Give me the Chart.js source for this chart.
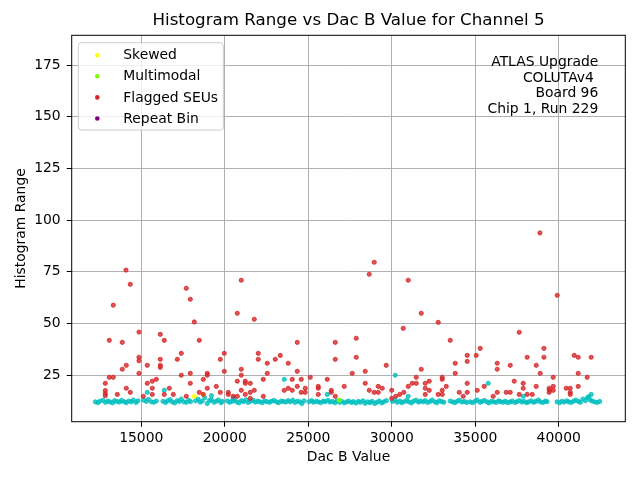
<!DOCTYPE html>
<html><head><meta charset="utf-8">
<script src="https://cdn.jsdelivr.net/npm/chart.js@4.4.1/dist/chart.umd.min.js"></script>
<style>html,body{margin:0;padding:0;background:#fff}canvas{display:block}</style>
</head><body>
<canvas id="c" width="640" height="480" style="width:640px;height:480px"></canvas>
<script>
const titleText = 'Histogram Range vs Dac B Value for Channel 5';
const xLabel = 'Dac B Value';
const yLabel = 'Histogram Range';
const xTicks = [15000, 20000, 25000, 30000, 35000, 40000];
const yTicks = [25, 50, 75, 100, 125, 150, 175];
const xRange = [10832, 43988];
const yRange = [2.4, 189.5];
const legendLabels = ['Skewed', 'Multimodal', 'Flagged SEUs', 'Repeat Bin'];
const legendColors = ['#ffff00', '#7cfc00', '#d62728', '#800080'];
const pointColors = ['rgba(255,255,0,0.85)', 'rgba(124,252,0,0.85)', 'rgba(214,39,40,0.8)', 'rgba(128,0,128,0.85)'];
const normalColor = 'rgba(0,191,191,0.8)';
const noteLines = ['ATLAS Upgrade', 'COLUTAv4 ', 'Board 96', 'Chip 1, Run 229'];

const normalPts = [
[12250,12.0],[12400,11.6],[12520,12.3],[12700,12.8],[12850,11.8],[13000,12.4],[13120,12.0],[13280,11.5],[13400,12.6],[13550,12.2],[13700,11.9],[13820,12.7],[13980,12.1],[14100,11.6],[14250,12.4],[14400,12.0],[14520,12.9],[14680,11.7],[14800,12.5],
[15150,12.8],[15300,12.2],[15420,13.2],[15600,12.0],[15750,11.8],[15900,12.4],
[16300,12.3],[16450,11.7],[16580,12.5],[16720,13.1],[16850,12.0],[17000,11.5],[17150,12.6],[17280,12.2],[17400,13.4],[17550,12.0],[17700,11.8],[17850,12.7],[17950,12.1],
[18250,12.5],[18400,13.3],[18520,11.9],[18650,12.4],[18800,14.0],[18950,11.2],[19080,12.6],[19200,13.0],[19350,11.8],[19500,12.3],[19620,12.9],[19780,11.6],[19850,12.2],
[20150,12.4],[20300,11.8],[20420,12.2],[20580,12.9],[20700,12.0],[20850,11.5],[21000,12.6],[21120,12.1],[21280,13.0],[21400,11.7],[21550,12.3],[21700,12.8],[21820,11.9],[21980,12.4],[22100,12.0],[22250,11.6],[22400,12.5],[22520,12.1],[22680,11.8],[22800,12.3],[22950,12.7],[23100,12.0],[23220,11.6],[23380,12.4],[23500,12.2],[23650,11.9],[23800,12.6],[23920,12.0],[24080,12.8],[24200,11.7],[24350,12.3],[24500,12.0],[24620,11.2],[24750,12.5],
[25050,12.1],[25200,12.6],[25320,11.8],[25480,12.3],[25600,12.0],[25750,11.6],[25900,12.4],[26020,12.1],[26180,12.7],[26300,11.9],[26450,12.2],[26600,11.6],[26720,12.5],[26880,11.8],[27000,12.3],[27150,11.5],[27300,12.0],[27420,12.4],[27580,11.7],[27700,12.1],[27850,11.4],[28000,12.2],[28120,11.8],[28280,12.5],[28400,11.3],[28550,12.0],[28700,11.6],[28820,12.3],[28980,11.2],[29100,11.8],[29250,12.4],[29400,11.5],[29520,12.0],[29680,12.6],
[30050,12.2],[30200,12.9],[30320,11.8],[30480,12.4],[30600,11.6],[30750,12.1],[30900,12.7],[31020,12.0],[31180,11.5],[31300,12.3],[31450,12.8],[31600,11.9],[31720,12.4],[31880,12.0],[32000,12.6],[32150,11.7],[32300,12.2],[32420,12.9],[32580,12.0],[32700,11.6],[32850,12.5],[33000,12.1],[33120,11.8],[33500,12.4],[33650,12.0],[33780,11.6],[33920,12.3],[34050,12.8],[34200,11.9],[34350,12.2],[34480,11.7],
[34700,12.0],[34850,11.6],[35000,12.4],[35120,12.9],[35280,11.8],[35400,12.2],[35550,12.7],[35700,12.0],[35820,11.5],[35980,12.3],[36100,12.0],[36250,11.7],[36400,12.5],[36520,12.1],[36680,11.8],[36800,12.3],[36950,11.6],[37100,12.0],[37220,12.4],[37380,11.7],[37500,12.1],[37650,12.6],[37800,11.9],[37920,12.3],[38080,11.6],[38200,12.0],[38350,12.5],[38500,11.8],[38620,12.2],[38780,12.9],[38900,12.0],[39050,11.7],[39200,12.4],[39300,12.1],
[39900,12.0],[40050,11.6],[40200,12.3],[40320,11.9],[40480,12.5],[40600,12.0],[40750,11.7],[40900,12.4],[41020,12.9],[41180,12.2],[41300,11.8],[41450,13.4],[41600,12.6],[41720,14.0],[41880,13.0],[42000,12.4],[42150,12.0],[42300,11.7],[42450,12.2],
[16377,17.6],[15359,16.6],[23563,22.9],[26138,15.6],[30210,24.9],[35777,21.0],[37874,14.7],[30988,14.7],[41946,15.6],[41800,14.5],[19200,15.0],[20500,13.8]
];

const skewedPts = [[18174,14.7],[18713,15.6]];
const multimodalPts = [[26857,12.8]];
const repeatBinPts = [];

const flaggedPts = [
[14084,75.8],[14341,68.9],[13323,58.8],[13084,41.8],[13862,40.8],[14862,45.8],[14862,33.6],[14862,31.9],[14862,25.8],[14102,29.7],[13862,27.8],[13084,23.9],[13323,23.9],[12844,21.0],[12844,17.5],[12844,16.0],[12844,15.0],[13563,15.6],[14102,18.6],[14341,16.6],[15120,14.7],[15359,29.7],[15359,21.0],[15659,18.6],[15659,15.6],[15659,22.0],[15898,22.9],[16138,44.7],[16377,41.8],[16138,32.6],[16138,29.7],[16138,28.7],[16377,15.6],[16677,18.6],[16916,15.6],[17156,32.6],[17395,35.5],[17395,24.9],[17695,67.0],[17934,61.7],[18174,50.7],[17934,25.8],[17934,21.0],[17695,14.7],[18473,41.8],[18473,16.6],[18713,22.9],[18952,25.8],[18952,24.9],[18952,18.6],[18713,15.6],[19491,19.5],[19731,32.6],[19970,35.5],[19970,26.8],[19731,16.6],[20210,16.6],[20210,15.6],[20509,14.7],[20749,14.7],[20749,54.9],[20988,70.9],[20988,27.8],[20988,24.9],[20749,22.0],[20988,17.6],[21228,22.0],[21228,21.0],[21228,15.6],[21527,21.0],[21527,16.6],[21527,13.7],[21767,52.0],[21767,17.6],[22006,35.5],[22006,32.6],[22306,22.9],[22306,14.7],[22545,30.7],[22545,25.8],[23024,32.6],[23324,34.5],[23803,30.7],[23563,17.6],[23803,18.6],[24042,22.9],[24042,17.6],[24341,40.8],[24341,26.8],[24341,19.5],[24581,22.9],[24581,16.6],[24820,18.6],[24820,16.6],[25120,23.9],[25599,19.5],[25599,18.6],[25599,15.6],[26138,22.9],[26377,17.6],[26377,16.6],[26617,14.7],[26617,40.8],[26617,32.6],[27156,19.5],[27874,42.8],[27874,33.6],[27635,25.8],
[28952,79.6],[28653,73.8],[30988,70.9],[39910,63.6],[31767,54.9],[32784,50.5],[30689,47.6],[37634,45.7],[33503,41.8],[35299,37.9],[35060,34.5],[39114,37.9],[38113,33.6],[39114,33.6],[40929,34.5],[41168,33.6],[41946,33.6],[34520,34.5],[34520,31.6],[29671,29.7],[33802,30.7],[36317,30.7],[36317,27.8],[37096,29.7],[38653,29.7],[28413,26.8],[31767,27.8],[33802,25.8],[38892,25.8],[41168,25.8],[31467,23.9],[33024,23.9],[33024,22.9],[39671,23.9],[41707,23.9],[28413,21.0],[31228,21.0],[31467,21.0],[32006,21.0],[32246,22.0],[33264,19.5],[34520,21.0],[35538,19.5],[37336,22.0],[37874,21.0],[37874,18.6],[38653,19.5],[39671,19.5],[39431,18.6],[39431,17.6],[39431,16.6],[40449,18.6],[40689,18.6],[40689,16.6],[40689,15.6],[41168,19.5],[28653,17.6],[28952,16.6],[29192,16.6],[29192,19.5],[29431,18.6],[30000,17.6],[30000,13.7],[30240,14.7],[30479,15.6],[30719,16.6],[30988,19.5],[32006,18.6],[32006,15.6],[32246,17.6],[32784,15.6],[33024,17.6],[33024,15.6],[34042,16.6],[34281,14.7],[34520,16.6],[35120,17.6],[36078,14.7],[36317,16.6],[36856,16.6],[37096,16.6],[37634,15.6],[38113,15.6],[38413,15.6],[39671,17.6],[38874,93.8]
];

const FONT = "'DejaVu Sans', 'Liberation Sans', sans-serif";
const toXY = arr => arr.map(p => ({x: p[0], y: p[1]}));

function roundRectPath(ctx, x, y, w, h, r) {
  ctx.beginPath();
  ctx.moveTo(x + r, y);
  ctx.arcTo(x + w, y, x + w, y + h, r);
  ctx.arcTo(x + w, y + h, x, y + h, r);
  ctx.arcTo(x, y + h, x, y, r);
  ctx.arcTo(x, y, x + w, y, r);
  ctx.closePath();
}

const deco = {
  id: 'deco',
  afterDraw(chart) {
    const {ctx, chartArea: a} = chart;
    ctx.save();
    ctx.strokeStyle = '#000';
    ctx.lineWidth = 1;
    ctx.strokeRect(a.left, a.top, a.right - a.left, a.bottom - a.top);
    ctx.fillStyle = '#000';
    ctx.font = '16.7px ' + FONT;
    ctx.textAlign = 'center';
    ctx.textBaseline = 'middle';
    ctx.fillText(titleText, (a.left + a.right) / 2, 21);
    const lx = a.left + 6.6, ly = a.top + 7.4, lw = 145, lh = 87.3;
    roundRectPath(ctx, lx, ly, lw, lh, 3);
    ctx.fillStyle = 'rgba(255,255,255,0.8)';
    ctx.fill();
    ctx.strokeStyle = '#cccccc';
    ctx.lineWidth = 1;
    ctx.stroke();
    ctx.font = '13.9px ' + FONT;
    ctx.textAlign = 'left';
    ctx.textBaseline = 'middle';
    legendLabels.forEach((lab, i) => {
      const cy = ly + 12.5 + i * 21.1;
      ctx.beginPath();
      ctx.arc(lx + 19, cy, 2.3, 0, Math.PI * 2);
      ctx.fillStyle = legendColors[i];
      ctx.fill();
      ctx.fillStyle = '#000';
      ctx.fillText(lab, lx + 45, cy + 0.5);
    });
    ctx.textAlign = 'right';
    noteLines.forEach((t, i) => {
      ctx.fillText(t, 598.3, 62.5 + i * 15.6);
    });
    ctx.restore();
  }
};

const tickFont = {family: FONT, size: 13.9};
const gridOpts = {color: '#b0b0b0', lineWidth: 1, tickLength: 5, tickColor: '#000', drawTicks: true};
const mk = (label, pts, color, order) => ({
  label, data: toXY(pts), backgroundColor: color, borderColor: color,
  pointRadius: 2.1, borderWidth: 1, order
});

new Chart(document.getElementById('c'), {
  type: 'scatter',
  data: {
    datasets: [
      mk('Normal', normalPts, normalColor, 10),
      mk(legendLabels[0], skewedPts, pointColors[0], 2),
      mk(legendLabels[1], multimodalPts, pointColors[1], 0),
      mk(legendLabels[2], flaggedPts, pointColors[2], 1),
      mk(legendLabels[3], repeatBinPts, pointColors[3], 0)
    ]
  },
  options: {
    responsive: false,
    animation: false,
    events: [],
    layout: {padding: {left: 0, right: 14.7, top: 35.3, bottom: 0}},
    plugins: {legend: {display: false}, tooltip: {enabled: false}, title: {display: false}},
    scales: {
      x: {
        type: 'linear', position: 'bottom', min: xRange[0], max: xRange[1],
        afterBuildTicks: s => { s.ticks = xTicks.map(v => ({value: v})); },
        afterFit: s => { s.height = 58.3; },
        grid: gridOpts,
        border: {display: false},
        ticks: {color: '#000', font: tickFont, padding: 3, maxRotation: 0, autoSkip: false, callback: v => String(v)},
        title: {display: true, text: xLabel, color: '#000', font: tickFont, padding: {top: 0, bottom: 14.4}}
      },
      y: {
        type: 'linear', position: 'left', min: yRange[0], max: yRange[1],
        afterBuildTicks: s => { s.ticks = yTicks.map(v => ({value: v})); },
        afterFit: s => { s.width = 71.7; },
        grid: gridOpts,
        border: {display: false},
        ticks: {color: '#000', font: tickFont, padding: 6, autoSkip: false, callback: v => String(v)},
        title: {display: true, text: yLabel, color: '#000', font: tickFont, padding: {top: 13, bottom: 0}}
      }
    }
  },
  plugins: [deco]
});
</script>
</body></html>
